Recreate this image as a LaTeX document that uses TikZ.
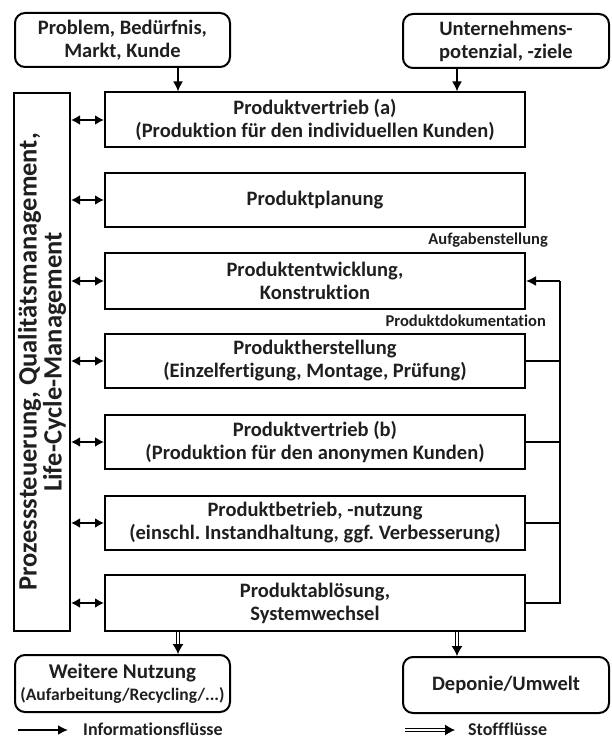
\documentclass[tikz,border=0pt]{standalone}
\usepackage{fontspec}
\setmainfont{Carlito}[Ligatures={NoCommon}]
\usetikzlibrary{arrows.meta}
\frenchspacing
\begin{document}
\begin{tikzpicture}[x=1pt,y=-1pt,
  every node/.style={font=\bfseries, text=black!88, inner sep=0pt},
  phase/.style={draw, line width=2pt, minimum width=420pt, minimum height=55pt, align=center, font=\fontsize{20.5}{23}\bfseries},
  ext/.style={draw, line width=2pt, rounded corners=10pt, align=center, font=\fontsize{20.5}{23}\bfseries},
  side/.style={draw, line width=2pt, align=center, rotate=90, minimum width=538pt, minimum height=56pt, font=\fontsize{26.5}{25}\bfseries},
  info/.style={line width=1.8pt, -{Latex[length=10pt,width=10pt]}},
  both/.style={line width=1.8pt, {Latex[length=9pt,width=10pt]}-{Latex[length=9pt,width=10pt]}},
  stoff/.style={double, double distance=2.5pt, line width=0.9pt, -{Latex[length=10pt,width=11pt]}},
  fb/.style={line width=1.8pt},
  small/.style={font=\fontsize{16.5}{18}\bfseries},
  legend/.style={font=\fontsize{18}{20}\bfseries}
]
\useasboundingbox (0,0) rectangle (611,738);

% external inputs and outputs
\node[ext, minimum width=215pt, minimum height=54pt] (prob) at (122.5,40) {Problem, Bedürfnis,\\Markt, Kunde};
\node[ext, minimum width=206pt, minimum height=54pt] (unt) at (506,41) {Unternehmens-\\potenzial, -ziele};
\node[ext, minimum width=215pt, minimum height=57pt, font=\fontsize{21}{22}\bfseries] (weit) at (122.5,683.5) {Weitere Nutzung\\{\fontsize{17.5}{20}\bfseries(Aufarbeitung/Recycling/...)}};
\node[ext, minimum width=206pt, minimum height=56pt] (dep) at (506,685) {Deponie/Umwelt};

% life cycle phases
\node[phase] (p1) at (315,120) {Produktvertrieb (a)\\(Produktion für den individuellen Kunden)};
\node[phase, minimum height=54pt] (p2) at (315,200) {Produktplanung};
\node[phase, minimum height=56pt] (p3) at (315,281) {Produktentwicklung,\\Konstruktion};
\node[phase, minimum height=54pt] (p4) at (315,361) {Produktherstellung\\(Einzelfertigung, Montage, Prüfung)};
\node[phase, minimum height=54pt] (p5) at (315,442) {Produktvertrieb (b)\\(Produktion für den anonymen Kunden)};
\node[phase, minimum height=54pt] (p6) at (315,523) {Produktbetrieb, -nutzung\\(einschl. Instandhaltung, ggf. Verbesserung)};
\node[phase, minimum height=56pt] (p7) at (315,603) {Produktablösung,\\Systemwechsel};

% management column
\node[side] (mgmt) at (42,362) {Prozesssteuerung, Qualitätsmanagement,\\Life-Cycle-Management};

% labels between phases
\node[small, anchor=east] (auf) at (548,240) {Aufgabenstellung};
\node[small, anchor=east] (doku) at (546,321) {Produktdokumentation};

% inputs
\draw[info] (prob.south -| 178,0) -- (p1.north -| 178,0);
\draw[info] (unt.south -| 457,0) -- (p1.north -| 457,0);

% information exchange with management
\foreach \p in {p1,p2,p3,p4,p5,p6,p7}
  \draw[both] (mgmt.south |- \p.west) -- (\p.west);

% feedback loop to development
\coordinate (fbt) at (560,281);
\coordinate (fbb) at (560,603);
\draw[fb] (p7.east) -- (fbb) -- (fbt);
\draw[info] (fbt) -- (p3.east);
\foreach \p in {p4,p5,p6}
  \draw[fb] (\p.east) -- (\p.east -| fbt);

% material flows
\draw[stoff] (p7.south -| 178,0) -- (weit.north -| 178,0);
\draw[stoff] (p7.south -| 457,0) -- (dep.north -| 457,0);

% legend
\coordinate (li0) at (18,730);
\coordinate (li1) at (68,730);
\coordinate (ls0) at (405,730);
\coordinate (ls1) at (455,730);
\draw[info] (li0) -- (li1);
\node[legend, anchor=base west] (lit) at (83,735) {Informationsflüsse};
\draw[stoff] (ls0) -- (ls1);
\node[legend, anchor=base west] (lst) at (468,735) {Stoffflüsse};
\end{tikzpicture}
\end{document}
